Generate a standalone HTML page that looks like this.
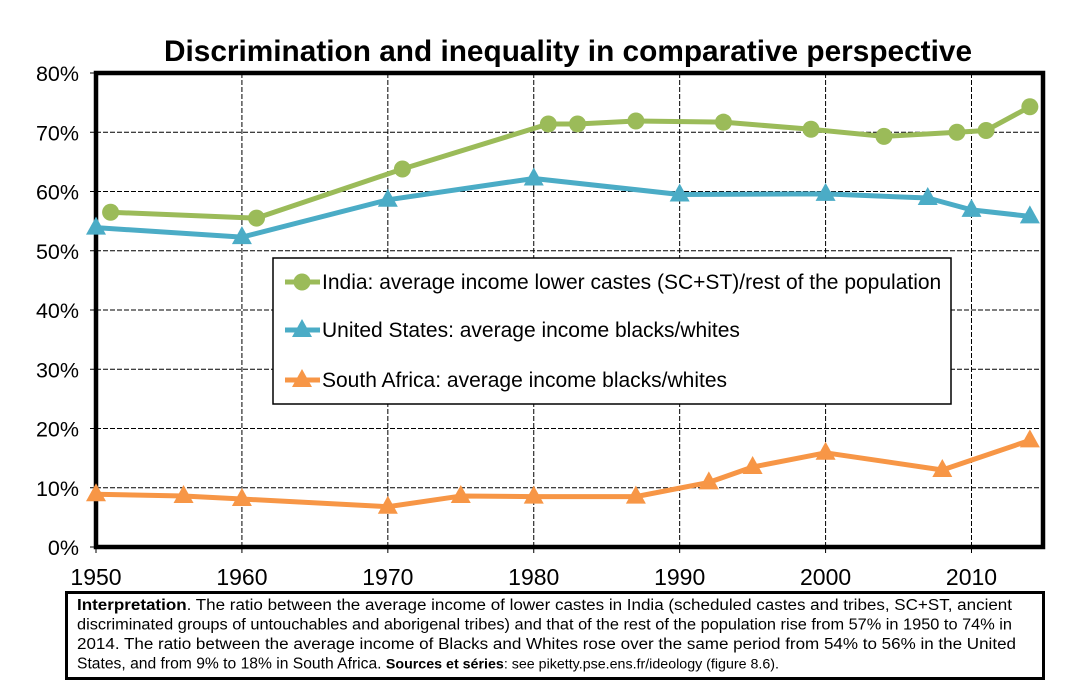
<!DOCTYPE html>
<html><head><meta charset="utf-8">
<style>
body{margin:0;background:#fff;font-family:"Liberation Sans",Arial,sans-serif;}
#wrap{position:relative;width:1080px;height:696px;overflow:hidden;}
svg text{font-family:"Liberation Sans",Arial,sans-serif;}
#chart{position:absolute;left:0;top:0;}
</style></head>
<body><div id="wrap">
<svg id="chart" width="1080" height="696">
<g>
<rect x="66.5" y="592.5" width="977" height="86" fill="#fff" stroke="#000" stroke-width="3"/>
<text x="77" y="610" font-size="15.4" textLength="935" lengthAdjust="spacingAndGlyphs"><tspan font-weight="bold">Interpretation</tspan>. The ratio between the average income of lower castes in India (scheduled castes and tribes, SC+ST, ancient</text>
<text x="77" y="629.5" font-size="15.4" textLength="935" lengthAdjust="spacingAndGlyphs">discriminated groups of untouchables and aborigenal tribes) and that of the rest of the population rise from 57% in 1950 to 74% in</text>
<text x="77" y="649" font-size="15.4" textLength="939" lengthAdjust="spacingAndGlyphs">2014. The ratio between the average income of Blacks and Whites rose over the same period from 54% to 56% in the United</text>
<text x="77" y="668.5" font-size="15.4" textLength="702" lengthAdjust="spacingAndGlyphs">States, and from 9% to 18% in South Africa.  <tspan font-weight="bold" font-size="14">Sources et séries</tspan><tspan font-size="14">: see piketty.pse.ens.fr/ideology (figure 8.6).</tspan></text>
</g>
</svg>
</div>
<script>
const xTicks=[1950,1960,1970,1980,1990,2000,2010];
const yTicks=[0,10,20,30,40,50,60,70,80];
const indiaYears=[1951,1961,1971,1981,1983,1987,1993,1999,2004,2009,2011,2014];
const indiaVals=[56.5,55.5,63.8,71.4,71.4,71.9,71.7,70.5,69.3,70.0,70.3,74.3];
const usYears=[1950,1960,1970,1980,1990,2000,2007,2010,2014];
const usVals=[53.9,52.3,58.6,62.2,59.5,59.6,58.9,56.9,55.8];
const saYears=[1950,1956,1960,1970,1975,1980,1987,1992,1995,2000,2008,2014];
const saVals=[8.9,8.6,8.1,6.8,8.6,8.5,8.5,10.9,13.5,15.9,13.0,18.0];
const L=96,R=1043,T=73,B=547;
const X=v=>L+(v-1950)/(2014.9-1950)*(R-L);
const Y=v=>B-v/80*(B-T);
const NS="http://www.w3.org/2000/svg";
const svg=document.getElementById('chart');
function mk(tag,at,parent){const e=document.createElementNS(NS,tag);for(const k in at)e.setAttribute(k,at[k]);(parent||svg).appendChild(e);return e;}
const title=mk('text',{x:568,y:61,'text-anchor':'middle','font-size':29.8,'font-weight':'bold'});
title.textContent='Discrimination and inequality in comparative perspective';


yTicks.forEach(v=>{
 if(v>0&&v<80){const g=mk('line',{x1:L,x2:R,y1:Y(v),y2:Y(v),stroke:'#000','stroke-width':1,'stroke-dasharray':'5,2'});
 
 }
 mk('line',{x1:L-6,x2:L,y1:Y(v),y2:Y(v),stroke:'#000','stroke-width':1});
 const t=mk('text',{x:L-17,y:Y(v)+8,'text-anchor':'end','font-size':21.5});
 t.textContent=v+'%';
 
 
});
xTicks.forEach(v=>{
 if(v>1950){const g=mk('line',{x1:X(v),x2:X(v),y1:T,y2:B,stroke:'#000','stroke-width':1,'stroke-dasharray':'5,2'});
 
 }
 mk('line',{x1:X(v),x2:X(v),y1:B,y2:B+6,stroke:'#000','stroke-width':1});
 const t=mk('text',{x:X(v),y:B+38,'text-anchor':'middle','font-size':23});
 t.textContent=v;
 
 
});
const frame=mk('rect',{x:L,y:T,width:R-L,height:B-T,fill:'none',stroke:'#000','stroke-width':4.5});


function circ(x,y,c,p){return mk('circle',{cx:x,cy:y,r:8.5,fill:c},p);}
function tri(x,y,c,p){return mk('polygon',{points:`${x},${y-11} ${x-10},${y+7} ${x+10},${y+7}`,fill:c},p);}
function series(xs,ys,c,marker,name){
 const g=mk('g',{});
 
 
 mk('polyline',{points:xs.map((x,i)=>X(x)+','+Y(ys[i])).join(' '),fill:'none',stroke:c,'stroke-width':5,'stroke-linejoin':'round'},g);
 xs.forEach((x,i)=>{const m=marker(X(x),Y(ys[i]),c,g);
  
  });
}
series(indiaYears,indiaVals,'#9bbb59',circ,'india-series');
series(usYears,usVals,'#4bacc6',tri,'us-series');
series(saYears,saVals,'#f79646',tri,'south-africa-series');
const lg=mk('g',{});


mk('rect',{x:273,y:258,width:678,height:146,fill:'#fff',stroke:'#000','stroke-width':1.5},lg);
const items=[['India: average income lower castes (SC+ST)/rest of the population','#9bbb59',circ,282],['United States: average income blacks/whites','#4bacc6',tri,330],['South Africa: average income blacks/whites','#f79646',tri,380]];
items.forEach(([t,c,m,y])=>{
 const e=mk('g',{},lg);
 
 
 mk('line',{x1:285,x2:320,y1:y,y2:y,stroke:c,'stroke-width':5},e);
 m(302,y,c,e);
 const tx=mk('text',{x:322,y:y+7,'font-size':21},e);tx.textContent=t;
});
</script>
</body></html>
